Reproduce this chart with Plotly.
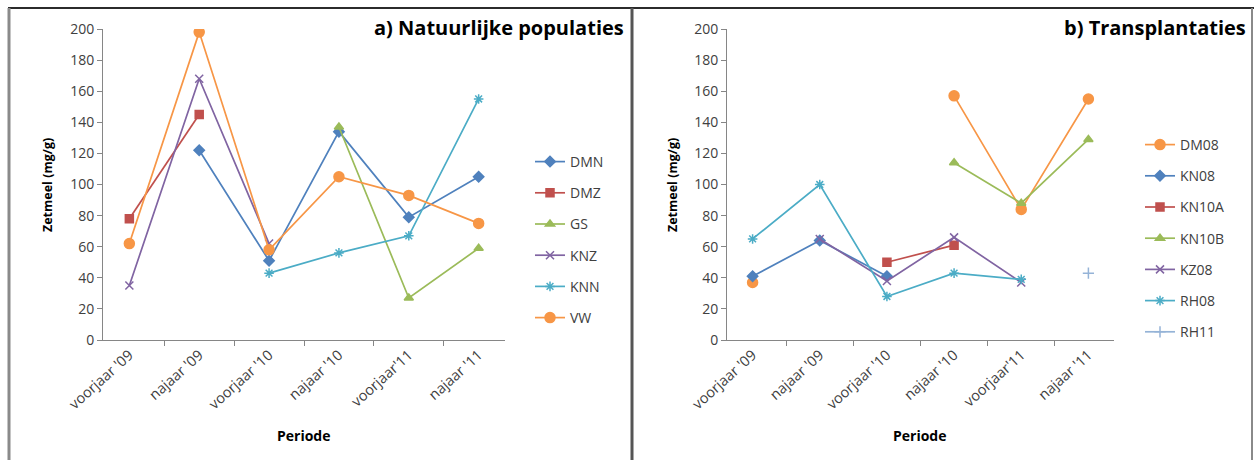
import plotly.graph_objects as go

periods = ["voorjaar '09", "najaar '09", "voorjaar '10", "najaar '10", "voorjaar'11", "najaar '11"]

# Panel a) Natuurlijke populaties
a_names = ["DMN", "DMZ", "GS", "KNZ", "KNN", "VW"]
DMN = [None, 122, 51, 134, 79, 105]
DMZ = [78, 145, None, None, None, None]
GS = [None, None, None, 137, 27, 59]
KNZ = [35, 168, 62, None, None, None]
KNN = [None, None, 43, 56, 67, 155]
VW = [62, 198, 58, 105, 93, 75]
a_values = [DMN, DMZ, GS, KNZ, KNN, VW]

# Panel b) Transplantaties
b_names = ["DM08", "KN08", "KN10A", "KN10B", "KZ08", "RH08", "RH11"]
DM08 = [37, None, None, 157, 84, 155]
KN08 = [41, 64, 41, None, None, None]
KN10A = [None, None, 50, 61, None, None]
KN10B = [None, None, None, 114, 88, 129]
KZ08 = [None, 65, 38, 66, 37, None]
RH08 = [65, 100, 28, 43, 39, None]
RH11 = [None, None, None, None, None, 43]
b_values = [DM08, KN08, KN10A, KN10B, KZ08, RH08, RH11]

BLUE, RED, GREEN, PURPLE, AQUA, ORANGE, LBLUE = (
    "#4F81BD", "#C0504D", "#9BBB59", "#8064A2", "#4BACC6", "#F79646", "#95B3D7")

a_style = {
    "DMN": (BLUE, "diamond", 8),
    "DMZ": (RED, "square", 8),
    "GS": (GREEN, "triangle-up", 8),
    "KNZ": (PURPLE, "x-thin-open", 8),
    "KNN": (AQUA, "asterisk-open", 8),
    "VW": (ORANGE, "circle", 10),
}
b_style = {
    "DM08": (ORANGE, "circle", 10),
    "KN08": (BLUE, "diamond", 8),
    "KN10A": (RED, "square", 8),
    "KN10B": (GREEN, "triangle-up", 8),
    "KZ08": (PURPLE, "x-thin-open", 8),
    "RH08": (AQUA, "asterisk-open", 8),
    "RH11": (LBLUE, "cross-thin-open", 8),
}

FONT = "Open Sans, Lato, sans-serif"
W, H = 1255, 460

fig = go.Figure()

def add(names, values, styles, xa, ya, legend):
    for n, v in zip(names, values):
        c, sym, sz = styles[n]
        fig.add_trace(go.Scatter(
            x=periods, y=v, name=n, mode="lines+markers",
            line=dict(color=c, width=1.7),
            marker=dict(symbol=sym, size=sz, color=c, line=dict(color=c, width=1.5)),
            connectgaps=False, xaxis=xa, yaxis=ya, legend=legend,
            legendgroup=legend + n,
        ))

add(a_names, a_values, a_style, "x", "y", "legend")
add(b_names, b_values, b_style, "x2", "y2", "legend2")

def px_x(p):
    return p / W

def px_y(p):
    return 1 - p / H

axis_common = dict(
    showline=True, linecolor="#868686", linewidth=1, ticks="outside",
    tickcolor="#868686", ticklen=5, showgrid=False, zeroline=False, automargin=False,
)
xfont = dict(family=FONT, size=14.5, color="#404040")
yfont = dict(family=FONT, size=14, color="#404040")

fig.update_layout(
    width=W, height=H, margin=dict(l=0, r=0, t=0, b=0, autoexpand=False),
    paper_bgcolor="white", plot_bgcolor="white",
    font=dict(family=FONT, size=13, color="#404040"),
    xaxis=dict(domain=[px_x(103), px_x(505)], anchor="y", type="category",
               tickson="boundaries", tickangle=-42, tickfont=xfont, **axis_common),
    yaxis=dict(domain=[px_y(340), px_y(29)], anchor="x", range=[0, 200], dtick=20,
               tickfont=yfont, **axis_common),
    xaxis2=dict(domain=[px_x(727), px_x(1114)], anchor="y2", type="category",
                tickson="boundaries", tickangle=-42, tickfont=xfont, **axis_common),
    yaxis2=dict(domain=[px_y(340), px_y(29)], anchor="x2", range=[0, 200], dtick=20,
                tickfont=yfont, **axis_common),
    legend=dict(x=px_x(530), y=px_y(146), xanchor="left", yanchor="top",
                font=dict(family=FONT, size=14, color="#404040"), tracegroupgap=10,
                bgcolor="rgba(0,0,0,0)", itemwidth=30),
    legend2=dict(x=px_x(1140), y=px_y(129), xanchor="left", yanchor="top",
                 font=dict(family=FONT, size=14, color="#404040"), tracegroupgap=10,
                 bgcolor="rgba(0,0,0,0)", itemwidth=30),
    showlegend=True,
)

annots = [
    dict(text="<b>a) Natuurlijke populaties</b>", x=px_x(626), y=px_y(28), xanchor="right", yanchor="middle",
         font=dict(size=20, color="black")),
    dict(text="<b>b) Transplantaties</b>", x=px_x(1248), y=px_y(28), xanchor="right", yanchor="middle",
         font=dict(size=20, color="black")),
    dict(text="<b>Periode</b>", x=px_x(304), y=px_y(435), xanchor="center", yanchor="middle",
         font=dict(size=14, color="black")),
    dict(text="<b>Periode</b>", x=px_x(920), y=px_y(435), xanchor="center", yanchor="middle",
         font=dict(size=14, color="black")),
    dict(text="<b>Zetmeel (mg/g)</b>", x=px_x(47), y=px_y(185), xanchor="center", yanchor="middle",
         textangle=-90, font=dict(size=12.5, color="black")),
    dict(text="<b>Zetmeel (mg/g)</b>", x=px_x(672), y=px_y(185), xanchor="center", yanchor="middle",
         textangle=-90, font=dict(size=12.5, color="black")),
]
for a in annots:
    a.update(xref="paper", yref="paper", showarrow=False)
    a["font"]["family"] = FONT
fig.update_layout(annotations=annots)

shapes = [
    dict(type="line", x0=px_x(8), x1=px_x(1254), y0=px_y(8), y1=px_y(8), line=dict(color="#2b2b2b", width=2)),
    dict(type="line", x0=px_x(9), x1=px_x(9), y0=px_y(8), y1=0, line=dict(color="#8a8a8a", width=3)),
    dict(type="line", x0=px_x(632), x1=px_x(632), y0=px_y(8), y1=0, line=dict(color="#555555", width=3)),
    dict(type="line", x0=px_x(1252), x1=px_x(1252), y0=px_y(8), y1=0, line=dict(color="#8a8a8a", width=2)),
]
for s in shapes:
    s.update(xref="paper", yref="paper", layer="above")
fig.update_layout(shapes=shapes)

fig.write_html(
    "out.html",
    config={"displayModeBar": False},
    post_script="document.body.style.margin='0';document.body.style.overflow='hidden';",
)
